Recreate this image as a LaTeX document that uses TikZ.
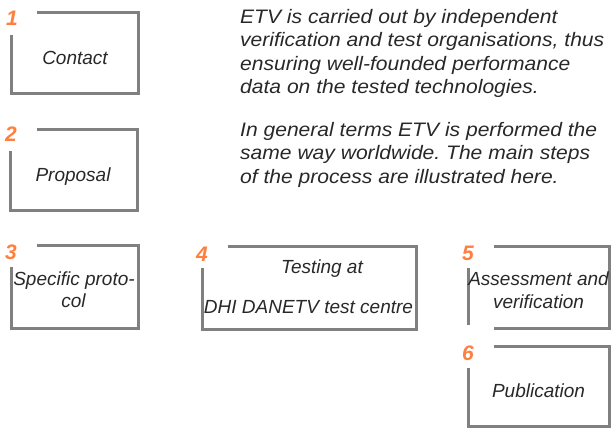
\documentclass[tikz,border=0pt]{standalone}
\usepackage{fontspec}
\setmainfont{Liberation Sans}
\newfontfamily\introfont[FakeStretch=1.08]{Liberation Sans}
\frenchspacing
\usetikzlibrary{calc}
\definecolor{steporange}{RGB}{255,127,63}
\definecolor{framegray}{RGB}{128,128,128}
\definecolor{textgray}{RGB}{40,40,40}
\newcommand\gapX{26}
\newcommand\gapY{22}

\begin{document}
\begin{tikzpicture}
  [x=1pt, y=-1pt,
   stepbox/.style = {
     inner sep=0pt, outer sep=0pt
   },
   frame/.style = {
     draw=framegray, line width=3pt
   },
   steptext/.style = {
     font=\fontsize{19}{23.5}\selectfont\itshape, text=textgray, inner sep=0pt
   },
   introtext/.style = {
     font=\introfont\fontsize{19.5}{23.5}\selectfont\itshape, text=textgray,
     inner sep=0pt, align=left, anchor=north west
   },
   stepnum/.style = {
     font=\fontsize{21}{21}\selectfont\bfseries\itshape, text=steporange, inner sep=0pt
   }]

  \useasboundingbox (0,0) rectangle (611,428);

  % Intro text.
  \node[introtext] at (240, 9) (intro1)
    {ETV is carried out by independent\\
     verification and test organisations, thus\\
     ensuring well-founded performance\\
     data on the tested technologies.};
  \node[introtext] at (240, 122) (intro2)
    {In general terms ETV is performed the\\
     same way worldwide. The main steps\\
     of the process are illustrated here.};

  % Step boxes.
  \node[stepbox, minimum width=127, minimum height=81] at (74.5, 53.5) (box1) {};
  \node[stepbox, minimum width=127, minimum height=81] at (74, 169.5) (box2) {};
  \node[stepbox, minimum width=127, minimum height=83] at (74.5, 286.5) (box3) {};
  \node[stepbox, minimum width=214, minimum height=83] at (309, 287.5) (box4) {};
  \node[stepbox, minimum width=141, minimum height=82] at (538.5, 287) (box5) {};
  \node[stepbox, minimum width=141, minimum height=80] at (538.5, 386) (box6) {};

  \draw[frame] ($(box1.north west)+(\gapX,0)$) -| (box1.south east) -| ($(box1.north west)+(0,\gapY)$);
  \draw[frame] ($(box2.north west)+(\gapX,0)$) -| (box2.south east) -| ($(box2.north west)+(0,\gapY)$);
  \draw[frame] ($(box3.north west)+(\gapX,0)$) -| (box3.south east) -| ($(box3.north west)+(0,\gapY)$);
  \draw[frame] ($(box4.north west)+(\gapX,0)$) -| (box4.south east) -| ($(box4.north west)+(0,\gapY)$);
  \draw[frame] ($(box5.north west)+(\gapX,0)$) -| (box5.south east) -- ($(box5.south west)+(\gapX,0)$);
  \draw[frame] ($(box5.north west)+(0,\gapY)$) -- ($(box5.south west)+(0,-3)$);
  \draw[frame] ($(box6.north west)+(\gapX,0)$) -| (box6.south east) -| ($(box6.north west)+(0,\gapY)$);

  % Step numbers.
  \node[stepnum, anchor=base west] at (6, 26) (num1) {1};
  \node[stepnum, anchor=base west] at (5, 142) (num2) {2};
  \node[stepnum, anchor=base west] at (5, 259) (num3) {3};
  \node[stepnum, anchor=base west] at (196, 261) (num4) {4};
  \node[stepnum, anchor=base west] at (462, 260) (num5) {5};
  \node[stepnum, anchor=base west] at (462, 360) (num6) {6};

  % Step labels.
  \node[steptext, anchor=base] at (75, 65) (lab1) {Contact};
  \node[steptext, anchor=base] at (73, 181) (lab2) {Proposal};
  \node[steptext, anchor=base] at (74, 285) (lab3a) {Specific proto-};
  \node[steptext, anchor=base] at (73.5, 307) (lab3b) {col};
  \node[steptext, anchor=base] at (322, 273) (lab4a) {Testing at};
  \node[steptext, anchor=base] at (308.5, 313) (lab4b) {DHI DANETV test centre};
  \node[steptext, anchor=base] at (538.5, 285) (lab5a) {Assessment and};
  \node[steptext, anchor=base] at (538.5, 308) (lab5b) {verification};
  \node[steptext, anchor=base] at (538.5, 397) (lab6) {Publication};

\end{tikzpicture}
\end{document}
